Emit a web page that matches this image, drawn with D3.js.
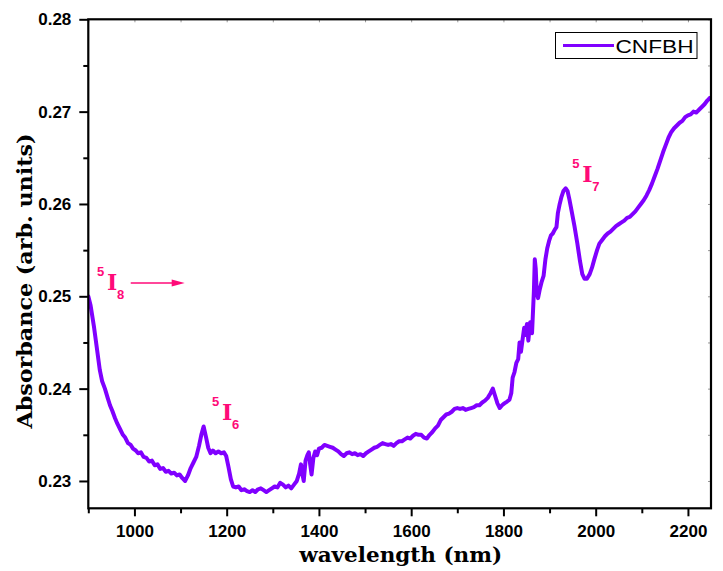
<!DOCTYPE html>
<html>
<head>
<meta charset="utf-8">
<script src="https://cdn.jsdelivr.net/npm/d3@7"></script>
<style>
  html, body { margin: 0; padding: 0; background: #fff; }
  svg { display: block; }
</style>
</head>
<body>
<svg id="chart" width="723" height="571"></svg>
<script>
// ---- data ----
const wavelength = [
  900, 905, 912, 918, 925, 930, 936, 942, 947, 952, 958, 963, 969, 975, 980, 986, 992, 997,
  1003, 1008, 1014, 1020, 1026, 1032, 1038, 1044, 1050, 1056, 1062, 1068, 1074, 1080, 1086, 1092, 1098,
  1104, 1110, 1116, 1122, 1128, 1134, 1140, 1145, 1150, 1155, 1160, 1165, 1170, 1176, 1182, 1188, 1194, 1199,
  1204, 1209, 1214, 1220, 1226, 1232, 1238, 1244, 1250, 1256, 1262, 1268, 1274, 1280, 1286, 1292, 1298,
  1304, 1310, 1316, 1322, 1328, 1334, 1340, 1346, 1352, 1357, 1361, 1364, 1367, 1371, 1375, 1378, 1381, 1384, 1388, 1392, 1396,
  1400, 1406, 1412, 1418, 1424, 1430, 1436, 1442, 1448, 1454, 1460, 1466, 1472, 1478, 1484, 1490, 1496,
  1502, 1508, 1514, 1520, 1526, 1532, 1538, 1544, 1550, 1556, 1562, 1568, 1574, 1580, 1586, 1592, 1598,
  1604, 1610, 1616, 1622, 1628, 1634, 1640, 1646, 1652, 1658, 1664, 1670, 1676, 1682, 1688, 1694,
  1700, 1706, 1712, 1718, 1724, 1730, 1736, 1742, 1748, 1754, 1760, 1766, 1772, 1777, 1782, 1787, 1792, 1797,
  1802, 1808, 1813, 1817, 1820, 1824, 1828, 1832, 1835, 1838, 1842, 1845, 1848, 1851, 1854, 1858, 1862, 1866, 1868,
  1870, 1872, 1875, 1879, 1883, 1887, 1891, 1895, 1899, 1903, 1907, 1911, 1915, 1918, 1922, 1926, 1930, 1935, 1939,
  1943, 1948, 1954, 1960, 1966, 1971, 1976, 1981, 1987, 1992, 1997, 2003, 2008, 2014, 2020, 2026, 2032, 2038,
  2044, 2050, 2056, 2062, 2068, 2074, 2080, 2086, 2092, 2098, 2104, 2110, 2116, 2122, 2128, 2134, 2140, 2146,
  2152, 2158, 2164, 2170, 2176, 2182, 2188, 2194, 2200, 2206, 2212, 2218, 2224, 2230, 2236, 2242, 2248
];
const absorbance = [
  .2500, .2490, .2468, .2446, .2420, .2408, .2400, .2390, .2382, .2376, .2368, .2362, .2356, .2350, .2347, .2341, .2339, .2335,
  .2333, .2330, .2331, .2326, .2325, .2321, .2322, .2317, .2318, .2313, .2314, .2310, .2311, .2308, .2309, .2306, .2307,
  .2303, .2300, .2306, .2314, .2320, .2326, .2338, .2350, .2359, .2348, .2336, .2330, .2333, .2330, .2332, .2330, .2331, .2327,
  .2315, .2302, .2294, .2293, .2294, .2290, .2291, .2289, .2288, .2290, .2288, .2291, .2292, .2290, .2288, .2290, .2292,
  .2294, .2293, .2298, .2296, .2293, .2295, .2292, .2296, .2300, .2308, .2318, .2308, .2300, .2322, .2328, .2331, .2318, .2307, .2325, .2332, .2328,
  .2335, .2336, .2339, .2338, .2337, .2336, .2334, .2332, .2329, .2327, .2330, .2331, .2329, .2330, .2328, .2329, .2327,
  .2330, .2332, .2334, .2336, .2337, .2339, .2341, .2340, .2339, .2340, .2338, .2341, .2343, .2343, .2345, .2347, .2346,
  .2349, .2351, .2350, .2350, .2347, .2346, .2350, .2353, .2357, .2360, .2366, .2369, .2372, .2373, .2375, .2378,
  .2379, .2378, .2379, .2377, .2378, .2379, .2380, .2382, .2382, .2385, .2387, .2390, .2395, .2400, .2392, .2384, .2379, .2382,
  .2384, .2386, .2388, .2395, .2412, .2418, .2428, .2432, .2450, .2440, .2455, .2466, .2458, .2470, .2452, .2472, .2460, .2505, .2540,
  .2530, .2505, .2498, .2508, .2516, .2522, .2540, .2552, .2560, .2566, .2568, .2572, .2575, .2590, .2600, .2608, .2614, .2617, .2614,
  .2605, .2592, .2576, .2558, .2538, .2524, .2519, .2519, .2524, .2531, .2540, .2550, .2557, .2561, .2565, .2568, .2570, .2573,
  .2576, .2578, .2580, .2582, .2585, .2586, .2589, .2592, .2596, .2600, .2604, .2609, .2615, .2622, .2630, .2638, .2647, .2656,
  .2664, .2672, .2678, .2682, .2685, .2688, .2690, .2694, .2696, .2697, .2700, .2699, .2702, .2705, .2708, .2712, .2715
];
const seriesName = "CNFBH";
const xMajorTicks = [1000, 1200, 1400, 1600, 1800, 2000, 2200];
const xMinorTicks = [900, 1100, 1300, 1500, 1700, 1900, 2100];
const yMajorTicks = [0.23, 0.24, 0.25, 0.26, 0.27, 0.28];
const yMinorTicks = [0.235, 0.245, 0.255, 0.265, 0.275];
const xDomain = [900, 2250];
const yDomain = [0.22704, 0.28];
// transition labels: [level, anchor wavelength, anchor absorbance]
const transitions = [["8", 940.5, 0.25067], ["6", 1189.6, 0.23658], ["7", 1971, 0.26237]];
const arrowFrom = [992, 0.25145];
const arrowTo = [1109, 0.25145];

// ---- drawing ----
const svg = d3.select("#chart");
const L = 88.3, R = 711, T = 19.3, B = 508.3;
const x = d3.scaleLinear().domain(xDomain).range([L, R]);
const y = d3.scaleLinear().domain(yDomain).range([B, T]);
const lineColor = "#8000FF";
const pink = "#FF0A78";
const tickFont = "'Liberation Sans', Arial, sans-serif";
const serifFont = "'DejaVu Serif', serif";

// data line (clipped to plot)
svg.append("clipPath").attr("id", "clip").append("rect")
  .attr("x", L).attr("y", T).attr("width", R - L).attr("height", B - T);
const pts = wavelength.map((w, i) => [w, absorbance[i]]);
svg.append("path")
  .datum(pts)
  .attr("clip-path", "url(#clip)")
  .attr("fill", "none")
  .attr("stroke", lineColor)
  .attr("stroke-width", 4)
  .attr("stroke-linejoin", "round")
  .attr("stroke-linecap", "round")
  .attr("d", d3.line().x(d => x(d[0])).y(d => y(d[1])));

// axes
function styleAxis(g) {
  g.select(".domain").remove();
  g.selectAll(".tick line").attr("stroke", "#000").attr("stroke-width", 2);
  g.selectAll(".tick text").attr("fill", "#000").attr("font-family", tickFont)
    .attr("font-weight", "bold").attr("font-size", 17);
}
svg.append("g").attr("transform", `translate(0,${B})`)
  .call(d3.axisBottom(x).tickValues(xMajorTicks).tickSize(8).tickPadding(9).tickFormat(d3.format("d")))
  .call(styleAxis);
svg.append("g").attr("transform", `translate(0,${B})`)
  .call(d3.axisBottom(x).tickValues(xMinorTicks).tickSize(5).tickFormat(""))
  .call(styleAxis);
svg.append("g").attr("transform", `translate(${L},0)`)
  .call(d3.axisLeft(y).tickValues(yMajorTicks).tickSize(9).tickPadding(8).tickFormat(d3.format(".2f")))
  .call(styleAxis);
svg.append("g").attr("transform", `translate(${L},0)`)
  .call(d3.axisLeft(y).tickValues(yMinorTicks).tickSize(5).tickFormat(""))
  .call(styleAxis);
// faint ticks on top & right
svg.append("g").attr("transform", `translate(0,${T})`)
  .call(d3.axisBottom(x).tickValues(xMajorTicks.concat(xMinorTicks)).tickSize(3).tickFormat(""))
  .call(g => { g.select(".domain").remove(); g.selectAll(".tick line").attr("stroke", "#999").attr("stroke-width", 1); });
svg.append("g").attr("transform", `translate(${R},0)`)
  .call(d3.axisLeft(y).tickValues(yMajorTicks.concat(yMinorTicks)).tickSize(3).tickFormat(""))
  .call(g => { g.select(".domain").remove(); g.selectAll(".tick line").attr("stroke", "#999").attr("stroke-width", 1); });

// frame
svg.append("rect").attr("x", L).attr("y", T).attr("width", R - L).attr("height", B - T)
  .attr("fill", "none").attr("stroke", "#000").attr("stroke-width", 2.2);

// axis titles
svg.append("text")
  .attr("x", (L + R) / 2 + 1).attr("y", 562)
  .attr("text-anchor", "middle")
  .attr("font-family", serifFont).attr("font-weight", "bold").attr("font-size", 21)
  .attr("textLength", 203).attr("lengthAdjust", "spacingAndGlyphs")
  .text("wavelength (nm)");
svg.append("text")
  .attr("transform", "translate(32,281) rotate(-90)")
  .attr("text-anchor", "middle")
  .attr("font-family", serifFont).attr("font-weight", "bold").attr("font-size", 21)
  .attr("textLength", 295).attr("lengthAdjust", "spacingAndGlyphs")
  .text("Absorbance (arb. units)");

// legend
const lg = svg.append("g");
lg.append("rect").attr("x", 555.5).attr("y", 32.5).attr("width", 141.5).attr("height", 26)
  .attr("fill", "#fff").attr("stroke", "#000").attr("stroke-width", 1);
lg.append("line").attr("x1", 563).attr("x2", 614).attr("y1", 45.5).attr("y2", 45.5)
  .attr("stroke", lineColor).attr("stroke-width", 3);
lg.append("text").attr("x", 615.5).attr("y", 53)
  .attr("font-family", tickFont).attr("font-size", 18)
  .attr("textLength", 78).attr("lengthAdjust", "spacingAndGlyphs")
  .text(seriesName);

// transition labels
transitions.forEach(([lev, w, a]) => {
  const px = x(w), py = y(a);
  const g = svg.append("g").attr("fill", pink);
  g.append("text").attr("x", px - 10).attr("y", py - 14)
    .attr("font-family", tickFont).attr("font-weight", "bold").attr("font-size", 13).text("5");
  g.append("text").attr("x", px).attr("y", py)
    .attr("font-family", serifFont).attr("font-weight", "bold").attr("font-size", 22).text("I");
  g.append("text").attr("x", px + 10).attr("y", py + 9)
    .attr("font-family", tickFont).attr("font-weight", "bold").attr("font-size", 13).text(lev);
});

// arrow
const ax1 = x(arrowFrom[0]), ay = y(arrowFrom[1]), ax2 = x(arrowTo[0]);
svg.append("line").attr("x1", ax1).attr("x2", ax2 - 10).attr("y1", ay).attr("y2", ay)
  .attr("stroke", pink).attr("stroke-width", 1.5);
svg.append("path")
  .attr("d", `M${ax2},${ay} L${ax2 - 13},${ay - 3.5} L${ax2 - 13},${ay + 3.5} Z`)
  .attr("fill", pink);
</script>
</body>
</html>
